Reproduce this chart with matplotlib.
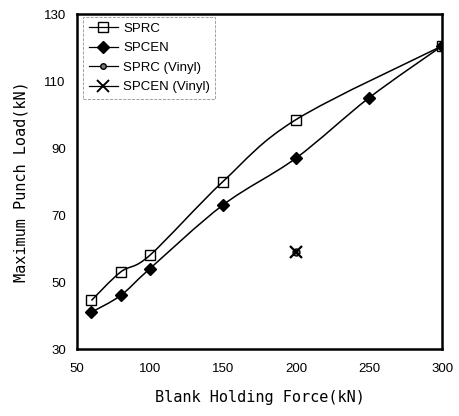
import numpy as np
import matplotlib.pyplot as plt
from matplotlib.path import Path
from matplotlib.patches import PathPatch
from matplotlib.lines import Line2D

# data
sprc_x = [60, 80, 100, 150, 200, 300]
sprc_y = [44.5, 53, 58, 80, 98.5, 120.5]
spcen_x = [60, 80, 100, 150, 200, 250, 300]
spcen_y = [41, 46, 54, 73, 87, 105, 120.5]
sprc_vinyl_x = [200]
sprc_vinyl_y = [59]
spcen_vinyl_x = [200]
spcen_vinyl_y = [59]


def smooth_path(xs, ys):
    # catmull-rom -> cubic bezier, drawn as a path through the points
    pts = np.column_stack([xs, ys]).astype(float)
    verts = [pts[0]]
    codes = [Path.MOVETO]
    for i in range(len(pts) - 1):
        p0 = pts[i - 1] if i > 0 else pts[i]
        p1, p2 = pts[i], pts[i + 1]
        p3 = pts[i + 2] if i + 2 < len(pts) else pts[i + 1]
        c1 = p1 + (p2 - p0) / 6.0
        c2 = p2 - (p3 - p1) / 6.0
        verts += [c1, c2, p2]
        codes += [Path.CURVE4] * 3
    return Path(verts, codes)


fig = plt.figure(figsize=(4.6, 4.16), dpi=100)
ax = fig.add_axes([0.167, 0.161, 0.794, 0.805])

for xs, ys in [(sprc_x, sprc_y), (spcen_x, spcen_y)]:
    ax.add_patch(PathPatch(smooth_path(xs, ys), fill=False, lw=1.1, ec='black'))

ax.plot(sprc_x, sprc_y, ls='none', marker='s', ms=7, mfc='none', mec='black', mew=1.0, zorder=3)
ax.plot(spcen_x, spcen_y, ls='none', marker='D', ms=6, mfc='black', mec='black', zorder=3)
ax.plot(sprc_vinyl_x, sprc_vinyl_y, ls='none', marker='o', ms=5, mfc='#777777', mec='black', zorder=3)
ax.plot(spcen_vinyl_x, spcen_vinyl_y, ls='none', marker='x', ms=8, mec='black', mew=1.6, zorder=4)

ax.set_xlim(50, 300)
ax.set_ylim(30, 130)
ax.set_xticks([50, 100, 150, 200, 250, 300])
ax.set_yticks([30, 50, 70, 90, 110, 130])
ax.tick_params(length=0, labelsize=9.5)
ax.tick_params(axis='x', pad=10)
ax.tick_params(axis='y', pad=8)
for lab in ax.get_xticklabels() + ax.get_yticklabels():
    lab.set_fontfamily('Liberation Sans')
for s in ax.spines.values():
    s.set_linewidth(1.8)

ax.set_xlabel('Blank Holding Force(kN)', family='DejaVu Sans Mono', fontsize=11, labelpad=11)
ax.set_ylabel('Maximum Punch Load(kN)', family='DejaVu Sans Mono', fontsize=11, labelpad=11)

handles = [
    Line2D([], [], color='black', lw=0.9, marker='s', ms=7, mfc='none', mec='black'),
    Line2D([], [], color='black', lw=0.9, marker='D', ms=6, mfc='black'),
    Line2D([], [], color='black', lw=0.9, marker='o', ms=4, mfc='#777777', mec='black'),
    Line2D([], [], color='black', lw=0.9, marker='x', ms=8, mew=1.4),
]
leg = ax.legend(handles, ['SPRC', 'SPCEN', 'SPRC (Vinyl)', 'SPCEN (Vinyl)'],
                loc='upper left', bbox_to_anchor=(0.0, 1.01), frameon=True,
                fancybox=False, handlelength=2.2, handletextpad=0.4,
                labelspacing=0.55, prop={'family': 'Liberation Sans', 'size': 9.5})
leg.get_frame().set_edgecolor('#777777')
leg.get_frame().set_linestyle('--')
leg.get_frame().set_linewidth(0.6)

fig.savefig('out.png', dpi=100)
